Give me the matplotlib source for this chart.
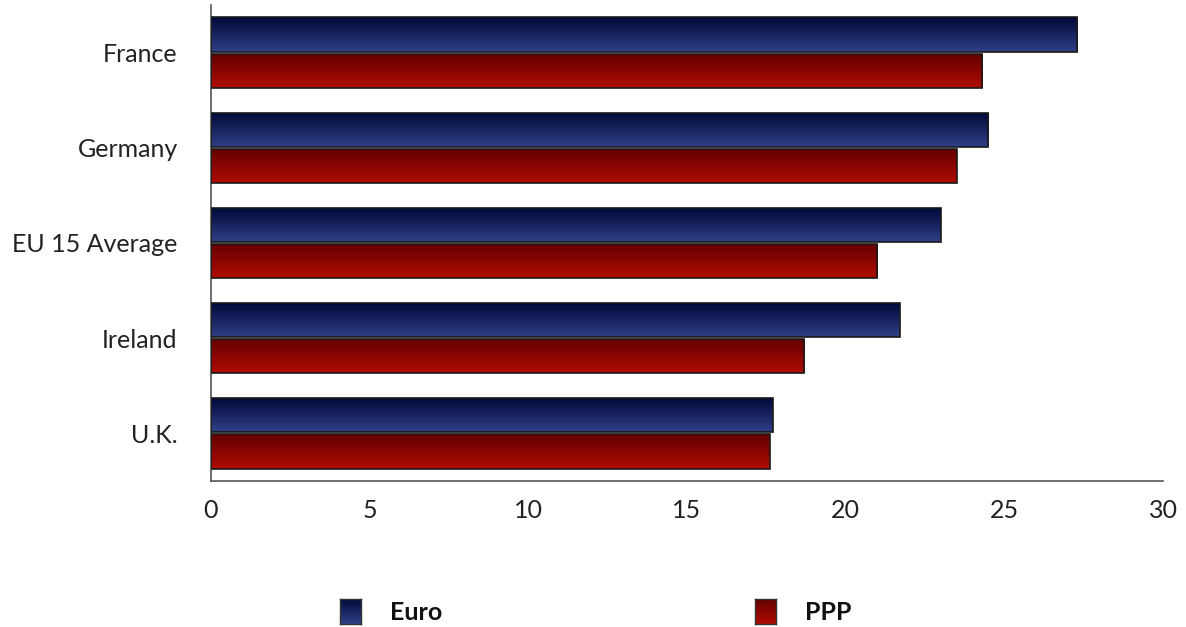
import matplotlib.pyplot as plt
import numpy as np
from matplotlib.colors import LinearSegmentedColormap

countries = ["France", "Germany", "EU 15 Average", "Ireland", "U.K."]
euro = [27.3, 24.5, 23.0, 21.7, 17.7]
ppp = [24.3, 23.5, 21.0, 18.7, 17.6]
series_names = ["Euro", "PPP"]

plt.rcParams['font.family'] = ['Lato', 'DejaVu Sans']

blue_cmap = LinearSegmentedColormap.from_list("blue", ["#000838", "#2f4087"])
red_cmap = LinearSegmentedColormap.from_list("red", ["#620000", "#b00c00"])
grad = np.linspace(0, 1, 64).reshape(-1, 1)

fig = plt.figure(figsize=(11.86, 6.27), dpi=100)
ax = fig.add_axes([211/1186, 1 - 481/627, (1163-211)/1186, (481-5)/627])

y = np.arange(len(countries))
h = 0.36


def gradient_bars(ys, vals, cmap):
    bars = ax.barh(ys, vals, height=h, color="none", edgecolor="#1a1a1a", linewidth=1.2, zorder=3)
    for b in bars:
        x0, y0 = b.get_x(), b.get_y()
        w, hh = b.get_width(), b.get_height()
        # top of the bar (smaller y, axis is inverted) is darkest
        im = ax.imshow(grad, cmap=cmap, aspect="auto", extent=[x0, x0 + w, y0 + hh, y0],
                       interpolation="bicubic", zorder=2)
        im.set_clip_path(b)
    return bars


gradient_bars(y - h / 2 - 0.01, euro, blue_cmap)
gradient_bars(y + h / 2 + 0.01, ppp, red_cmap)

ax.set_xlim(0, 30)
ax.set_ylim(4.5, -0.5)
ax.set_xticks(range(0, 31, 5))
ax.set_yticks(y)
ax.set_yticklabels(countries)
ax.tick_params(length=0, labelsize=18, colors="#222222")
ax.tick_params(axis="y", pad=24)
ax.tick_params(axis="x", pad=13)
for s in ["top", "right"]:
    ax.spines[s].set_visible(False)
for s in ["left", "bottom"]:
    ax.spines[s].set_color("#555555")
    ax.spines[s].set_linewidth(1.2)

# legend: gradient swatches with bold labels
for (x, cmap, name) in [(340, blue_cmap, series_names[0]), (755, red_cmap, series_names[1])]:
    sw = fig.add_axes([x/1186, 1 - 624/627, 21/1186, 25/627])
    sw.imshow(grad, cmap=cmap, aspect="auto", interpolation="bicubic")
    sw.set_xticks([])
    sw.set_yticks([])
    for sp in sw.spines.values():
        sp.set_color("#333333")
        sp.set_linewidth(1)
    fig.text((x + 50)/1186, 1 - 612/627, name, fontsize=18, fontweight="bold",
             va="center", ha="left", color="#111111")

fig.savefig("out.png", dpi=100)
